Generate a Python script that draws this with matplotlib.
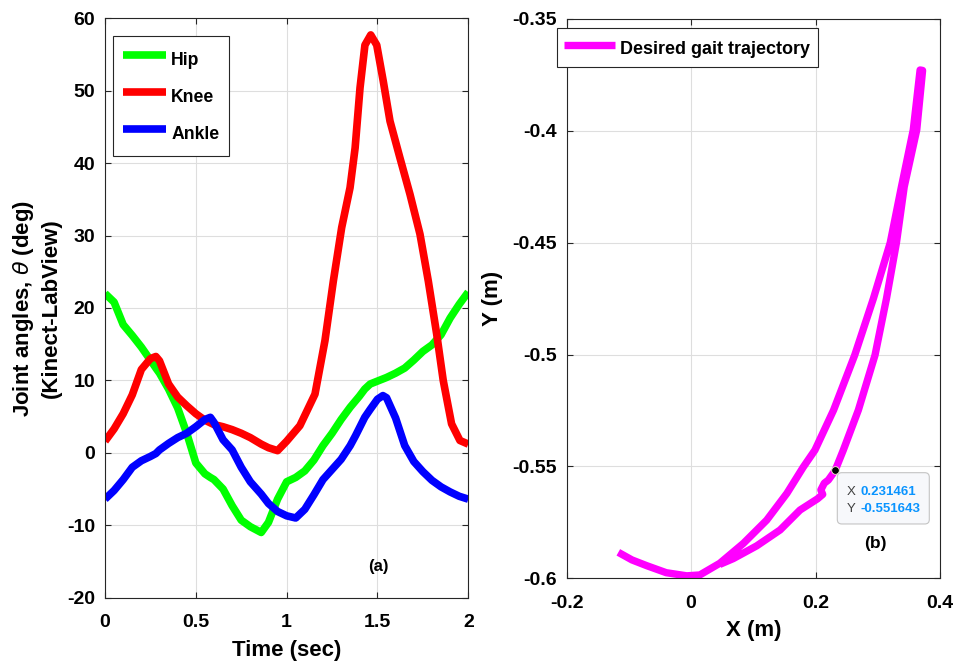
import matplotlib
matplotlib.use('Agg')
import matplotlib.pyplot as plt
from matplotlib.patches import FancyBboxPatch

# Joint angles over one gait cycle (Kinect-LabView)
time_s = [0, 0.05, 0.1, 0.15, 0.2, 0.25, 0.28, 0.3, 0.35, 0.4, 0.45, 0.5, 0.55, 0.58,
          0.6, 0.65, 0.7, 0.75, 0.8, 0.86, 0.9, 0.95, 1.0, 1.05, 1.1, 1.15, 1.2, 1.25,
          1.3, 1.35, 1.38, 1.4, 1.43, 1.46, 1.5, 1.53, 1.55, 1.6, 1.65, 1.7, 1.75, 1.8,
          1.85, 1.9, 1.95, 2.0]
hip = [22.0, 20.8, 17.7, 16.2, 14.6, 12.8, 11.7, 11.0, 8.8, 6.2, 2.7, -1.4, -2.9, -3.4,
       -3.7, -5.0, -7.3, -9.3, -10.2, -11.0, -9.6, -6.4, -4.0, -3.4, -2.5, -1.0, 1.0, 2.7,
       4.6, 6.3, 7.2, 7.8, 8.8, 9.5, 9.9, 10.2, 10.4, 11.0, 11.7, 12.8, 14.0, 14.9,
       16.3, 18.6, 20.5, 22.2]
ankle = [-6.4, -5.2, -3.7, -2.0, -1.1, -0.5, -0.1, 0.4, 1.3, 2.1, 2.7, 3.6, 4.6, 4.9,
         4.2, 1.8, 0.4, -2.0, -4.0, -5.7, -7.0, -8.1, -8.7, -9.0, -7.8, -5.8, -3.7, -2.3,
         -0.9, 1.0, 2.4, 3.4, 4.9, 6.0, 7.4, 7.9, 7.6, 4.8, 1.0, -1.2, -2.6, -3.8,
         -4.7, -5.4, -6.0, -6.4]
knee_t = [0, 0.05, 0.1, 0.15, 0.2, 0.25, 0.28, 0.3, 0.35, 0.4, 0.45, 0.5, 0.55, 0.6,
          0.65, 0.7, 0.75, 0.8, 0.86, 0.9, 0.95, 1.0, 1.073, 1.156, 1.211, 1.257, 1.303,
          1.349, 1.377, 1.404, 1.431, 1.463, 1.496, 1.532, 1.569, 1.624, 1.679, 1.734,
          1.78, 1.826, 1.862, 1.908, 1.954, 2.0]
knee = [1.6, 3.3, 5.4, 8.0, 11.5, 13.0, 13.3, 12.7, 9.5, 7.7, 6.5, 5.4, 4.5, 3.9,
        3.6, 3.2, 2.7, 2.1, 1.2, 0.7, 0.3, 1.6, 3.75, 8.1, 15.5, 23.7, 31.1,
        36.6, 42.1, 50.4, 56.3, 57.7, 56.3, 51.3, 45.8, 40.7, 35.7, 30.2,
        23.7, 16.4, 10.0, 4.0, 1.7, 1.2]

# Desired foot trajectory in the sagittal plane
traj_x = [-0.117, -0.095, -0.071, -0.04, -0.007, 0.014, 0.046, 0.084, 0.1215, 0.154,
          0.18, 0.199, 0.229, 0.263, 0.293, 0.320, 0.338, 0.357, 0.368, 0.372,
          0.3626, 0.3425, 0.330, 0.314, 0.2956, 0.2688, 0.2446, 0.2313, 0.2205, 0.214,
          0.2085, 0.2115, 0.203, 0.175, 0.143, 0.1054, 0.0678, 0.046]
traj_y = [-0.5884, -0.5918, -0.5944, -0.5975, -0.5989, -0.5985, -0.5933, -0.5844, -0.574, -0.562,
          -0.5504, -0.5427, -0.5248, -0.5002, -0.4749, -0.45, -0.425, -0.3996, -0.3728, -0.373,
          -0.3996, -0.425, -0.45, -0.4749, -0.5002, -0.5248, -0.5427, -0.5519, -0.5561, -0.5575,
          -0.5605, -0.5625, -0.5645, -0.5695, -0.5784, -0.5855, -0.5912, -0.5938]

tip_x = 0.231461
tip_y = -0.551643

plt.rcParams['font.family'] = ['Liberation Sans', 'DejaVu Sans']
plt.rcParams['font.weight'] = 'bold'
plt.rcParams['axes.labelweight'] = 'bold'
plt.rcParams['axes.unicode_minus'] = False
plt.rcParams['mathtext.fontset'] = 'custom'
plt.rcParams['mathtext.it'] = 'DejaVu Sans:style=italic:weight=normal'
plt.rcParams['mathtext.rm'] = 'Liberation Sans:weight=bold'

fig = plt.figure(figsize=(9.59, 6.66), dpi=100)
ax1 = fig.add_axes([0.1095, 0.1026, 0.3788, 0.870])
ax2 = fig.add_axes([0.5909, 0.1317, 0.3893, 0.8398])


def style_axes(ax):
    ax.grid(True, color='#dedede', linewidth=0.8)
    ax.set_axisbelow(True)
    ax.tick_params(direction='in', length=4, width=0.8, top=True, right=True,
                   labelsize=14, color='#262626', labelcolor='black')
    ax.tick_params(axis='x', pad=12)
    ax.tick_params(axis='y', pad=7)
    for s in ax.spines.values():
        s.set_linewidth(0.8)
        s.set_color('#262626')


# (a) joint angles
line_kw = dict(lw=5.5, solid_joinstyle='round', solid_capstyle='butt')
ax1.plot(time_s, hip, color='#00ff00', label='Hip', **line_kw)
ax1.plot(knee_t, knee, color='#ff0000', label='Knee', **line_kw)
ax1.plot(time_s, ankle, color='#0000ff', label='Ankle', **line_kw)
ax1.set_xlim(0, 2)
ax1.set_ylim(-20, 60)
ax1.set_xticks([0, 0.5, 1, 1.5, 2])
ax1.set_xticklabels(['0', '0.5', '1', '1.5', '2'])
ax1.set_yticks(range(-20, 61, 10))
style_axes(ax1)
ax1.set_xlabel('Time (sec)', fontsize=16, labelpad=6)
ax1.set_ylabel('Joint angles, $\\theta$ (deg)\n(Kinect-LabView)', fontsize=16,
               labelpad=4, linespacing=1.3)
leg1 = ax1.legend(loc='upper left', bbox_to_anchor=(0.022, 0.9695), borderaxespad=0,
                  fontsize=12.7, handlelength=2.45, handleheight=2.0, handletextpad=0.3,
                  labelspacing=0.55, borderpad=0.55, fancybox=False, edgecolor='#262626',
                  framealpha=1)
leg1.get_frame().set_linewidth(0.8)
ax1.text(1.505, -15.7, '(a)', ha='center', va='center', fontsize=12)

# (b) gait trajectory
ax2.plot(traj_x, traj_y, color='#ff00ff', lw=5.3, label='Desired gait trajectory',
         solid_capstyle='butt', solid_joinstyle='round')
ax2.set_xlim(-0.2, 0.4)
ax2.set_ylim(-0.6, -0.35)
ax2.set_xticks([-0.2, 0, 0.2, 0.4])
ax2.set_xticklabels(['-0.2', '0', '0.2', '0.4'])
ax2.set_yticks([-0.6, -0.55, -0.5, -0.45, -0.4, -0.35])
ax2.set_yticklabels(['-0.6', '-0.55', '-0.5', '-0.45', '-0.4', '-0.35'])
style_axes(ax2)
ax2.set_xlabel('X (m)', fontsize=16, labelpad=6)
ax2.set_ylabel('Y (m)', fontsize=16, labelpad=7)
leg2 = ax2.legend(loc='upper left', bbox_to_anchor=(-0.027, 0.983), borderaxespad=0,
                  fontsize=13, handlelength=2.83, handleheight=1.7, handletextpad=0.3,
                  borderpad=0.4, fancybox=False, edgecolor='#262626', framealpha=1)
leg2.get_frame().set_linewidth(0.8)

# data tip
ax2.plot([tip_x], [tip_y], 'o', color='black', ms=5.5, mec='#f4f4d0', mew=0.6, zorder=5)
tip_box = FancyBboxPatch((0.7249, 0.0971), 0.2464, 0.0917, transform=ax2.transAxes,
                         boxstyle='round,pad=0,rounding_size=0.012', mutation_aspect=0.67,
                         facecolor='#f7f8fb', edgecolor='#c4c4c4', linewidth=0.8, zorder=6)
ax2.add_patch(tip_box)
ax2.text(0.750, 0.1548, 'X', transform=ax2.transAxes, ha='left', va='center',
         fontsize=9.5, fontweight='normal', color='#404040', zorder=7)
ax2.text(0.750, 0.1234, 'Y', transform=ax2.transAxes, ha='left', va='center',
         fontsize=9.5, fontweight='normal', color='#404040', zorder=7)
ax2.text(0.786, 0.1548, f'{tip_x:.6f}', transform=ax2.transAxes, ha='left', va='center',
         fontsize=9.5, color='#0a94ff', zorder=7)
ax2.text(0.786, 0.1234, f'{tip_y:.6f}', transform=ax2.transAxes, ha='left', va='center',
         fontsize=9.5, color='#0a94ff', zorder=7)
ax2.text(0.2956, -0.5844, '(b)', ha='center', va='center', fontsize=12.5)

fig.savefig('out.png', dpi=100)
